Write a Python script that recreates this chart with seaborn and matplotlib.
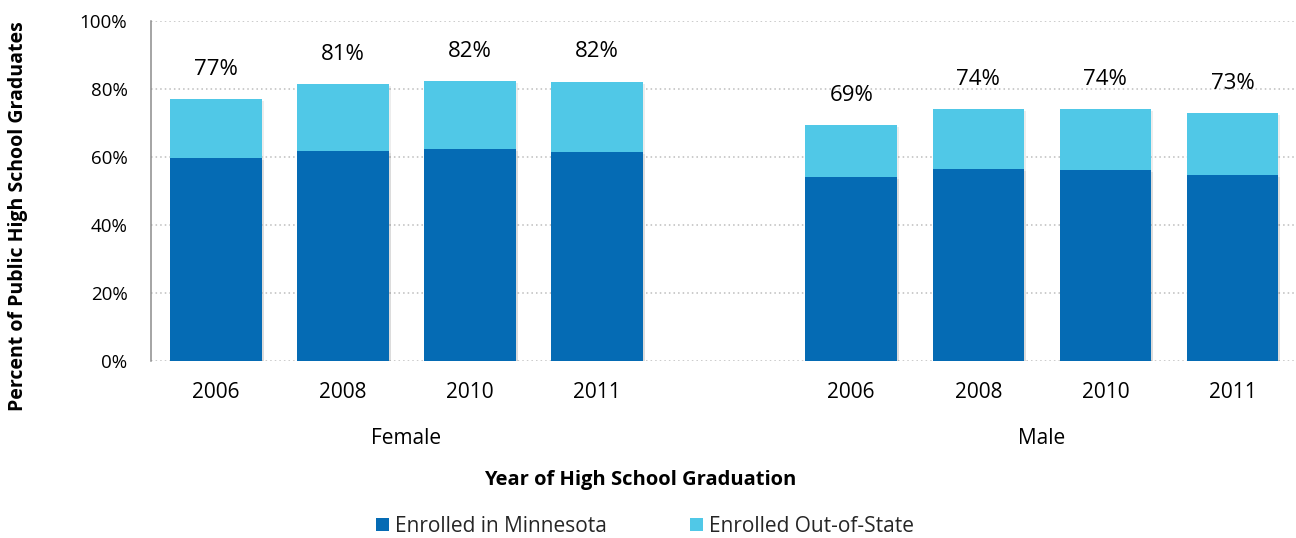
import matplotlib
matplotlib.use("Agg")
import matplotlib.pyplot as plt
import matplotlib.patheffects as pe
from matplotlib.patches import Patch
import seaborn as sns
import pandas as pd

# Data: share of public high school graduates enrolled in college (%)
genders = ["Female", "Male"]
years = ["2006", "2008", "2010", "2011"]
in_state = [59.7, 61.8, 62.4, 61.5, 54.1, 56.5, 56.3, 54.7]
out_of_state = [17.4, 19.6, 20.0, 20.7, 15.3, 17.6, 17.8, 18.2]

dark = "#056BB4"
light = "#50C8E7"

rows = []
for gi, g in enumerate(genders):
    for yi, y in enumerate(years):
        k = gi * len(years) + yi
        rows.append({
            "gender": g,
            "year": y,
            "pos": gi * (len(years) + 1) + yi,
            "in_state": in_state[k],
            "total": in_state[k] + out_of_state[k],
        })
df = pd.DataFrame(rows)

sns.set_theme(style="white")
plt.rcParams["font.family"] = ["Open Sans", "DejaVu Sans"]

fig = plt.figure(figsize=(12.96, 5.38), dpi=100)
ax = fig.add_axes([151 / 1296, 1 - 361 / 538, (1296 - 151) / 1296, (361 - 21) / 538])

shadow = [pe.SimplePatchShadow(offset=(1.5, -1.5), shadow_rgbFace="#000000", alpha=0.07), pe.Normal()]

sns.barplot(data=df, x="pos", y="total", native_scale=True, width=0.72,
            color=light, saturation=1, errorbar=None, ax=ax, linewidth=0)
sns.barplot(data=df, x="pos", y="in_state", native_scale=True, width=0.72,
            color=dark, saturation=1, errorbar=None, ax=ax, linewidth=0)
for p in ax.patches:
    p.set_path_effects(shadow)

for _, r in df.iterrows():
    ax.text(r["pos"], r["total"] + 8.7, f"{r['total']:.0f}%", ha="center", va="center",
            fontsize=16, color="#000000")

ax.set_ylim(0, 100)
ax.set_xlim(-0.51, 8.5)
ax.set_yticks([0, 20, 40, 60, 80, 100])
ax.set_yticklabels([f"{v}%" for v in [0, 20, 40, 60, 80, 100]])
ax.set_xticks(df["pos"])
ax.set_xticklabels(df["year"])
ax.set_xlabel("")
ax.set_ylabel("")

ax.set_axisbelow(True)
ax.yaxis.grid(True, linestyle=(0, (1, 2)), color="#BDBDBD", linewidth=1.1)
for s in ["top", "right", "bottom"]:
    ax.spines[s].set_visible(False)
ax.spines["left"].set_color("#8C8C8C")
ax.spines["left"].set_linewidth(1.1)
ax.tick_params(axis="y", direction="in", length=6, width=1.1, color="#8C8C8C",
               pad=17, labelsize=13.5, labelcolor="#000000")
ax.tick_params(axis="x", length=0, pad=15, labelsize=15, labelcolor="#000000")

# Group labels under the year ticks
for gi, g in enumerate(genders):
    center = gi * (len(years) + 1) + (len(years) - 1) / 2
    ax.text(center, -(439 - 361) / 340, g, transform=ax.get_xaxis_transform(),
            ha="center", va="center", fontsize=15, color="#000000")

fig.text((485 + 795) / 2 / 1296, 1 - 480 / 538, "Year of High School Graduation",
         ha="center", va="center", fontsize=14.5, fontweight="bold", color="#000000")
fig.text(18 / 1296, 1 - 216 / 538, "Percent of Public High School Graduates",
         ha="center", va="center", rotation=90, fontsize=14, fontweight="bold", color="#000000")

handles = [Patch(facecolor=dark, edgecolor="none", label="Enrolled in Minnesota"),
           Patch(facecolor=light, edgecolor="none", label="Enrolled Out-of-State")]
fig.legend(handles=handles, loc="center", bbox_to_anchor=(645 / 1296, 1 - 526 / 538), ncol=2,
           frameon=False, fontsize=15, handlelength=0.6, handleheight=0.6,
           handletextpad=0.3, columnspacing=4.0)

fig.savefig("out.png", dpi=100)
